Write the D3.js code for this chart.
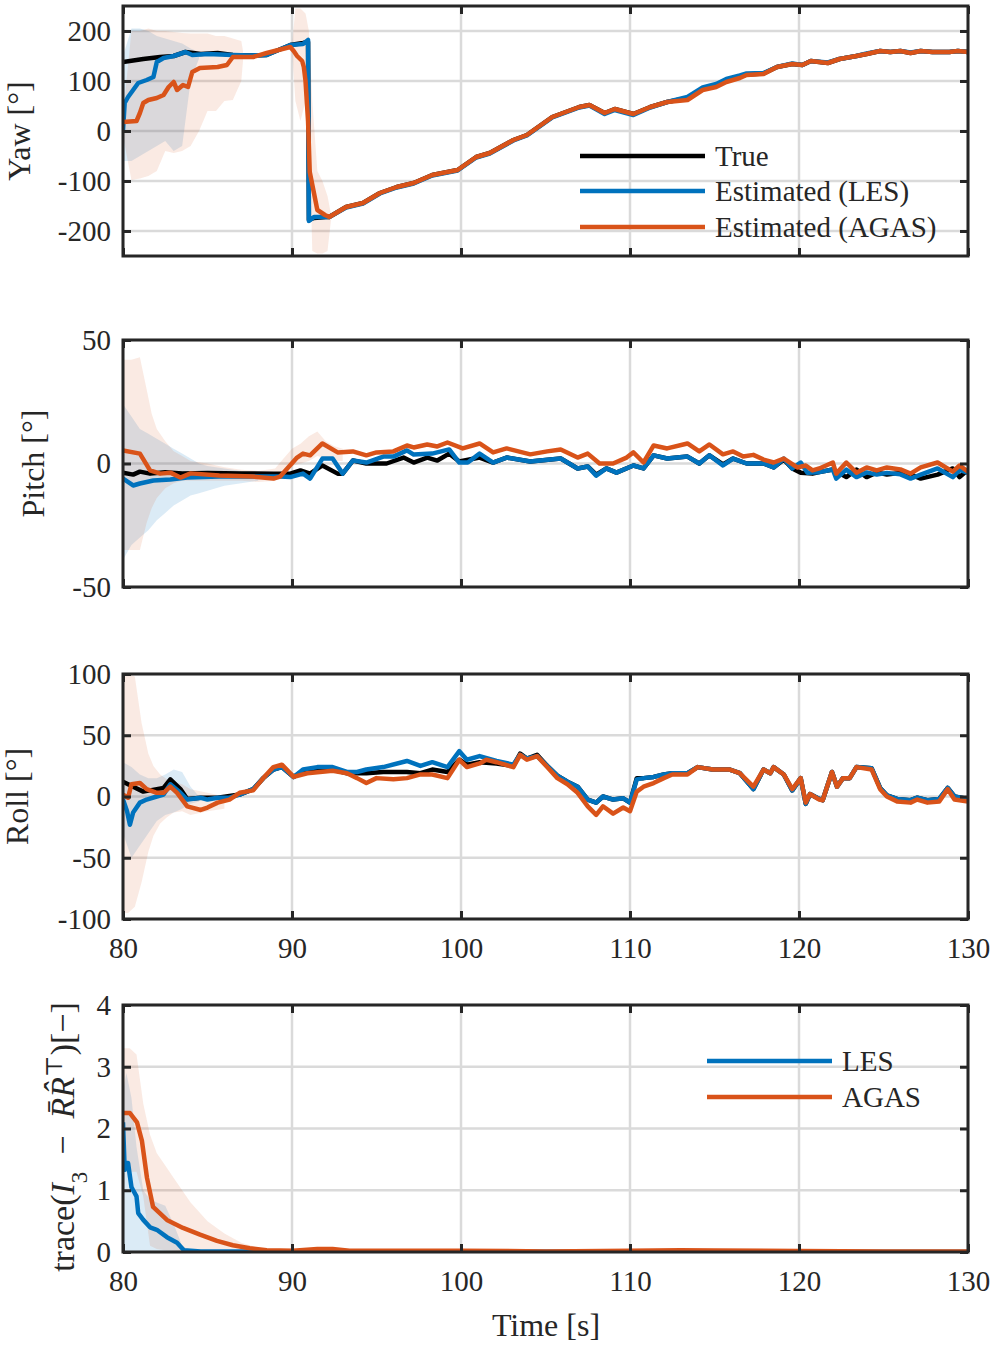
<!DOCTYPE html>
<html>
<head>
<meta charset="utf-8">
<script src="https://cdn.jsdelivr.net/npm/d3@7"></script>
<style>
  body { margin: 0; background: #fff; }
  text { font-family: "Liberation Serif", "DejaVu Serif", serif; fill: #262626; }
</style>
</head>
<body>
<svg id="chart" width="996" height="1350"></svg>
<script>
// ---- data (time in s, angles in deg) ----
var timeTicks = [80, 90, 100, 110, 120, 130];

// Yaw
var yawTicks = [-200, -100, 0, 100, 200];
var yawTrueT = [80, 81.2, 82.2, 83.0, 83.7, 84.6, 85.6, 86.5, 87.5, 88.5, 89.9, 90.65, 90.95, 91.0, 91.3, 92.0];
var yawTrue  = [138, 144, 148, 150, 158, 154, 156, 152, 151, 152, 172, 176, 178, -178, -174, -172];
var yawLesT  = [80, 80.1, 80.3, 80.6, 80.9, 81.4, 81.8, 82.0, 82.4, 83.0, 83.7, 84.1, 85.0, 86.5, 87.5, 88.5, 89.9, 90.65, 90.95, 91.0, 91.3, 92.0];
var yawLes   = [2, 56, 68, 82, 96, 102, 108, 138, 146, 150, 158, 152, 154, 152, 151, 152, 172, 174, 182, -180, -172, -172];
var yawAgasT = [80, 80.8, 81.0, 81.2, 81.5, 82.0, 82.4, 82.7, 83.0, 83.2, 83.55, 83.85, 84.1, 84.55, 85.6, 86.15, 86.5, 87.7, 88.5, 89.9, 90.1, 90.3, 90.6, 90.7, 90.8, 90.95, 91.05, 91.5, 91.95];
var yawAgas  = [18, 20, 36, 56, 62, 66, 72, 88, 98, 82, 92, 88, 118, 126, 128, 132, 148, 148, 156, 168, 160, 150, 140, 128, 100, 20, -82, -158, -168];
var yawLateT = [92.2, 93.2, 94.2, 95.2, 96.2, 97.2, 98.3, 99.8, 100.9, 101.7, 103.1, 103.9, 105.4, 107.0, 107.6, 108.5, 109.1, 110.2, 111.2, 112.2, 113.4, 114.3, 115.1, 115.7, 116.5, 116.9, 117.9, 118.7, 119.6, 120.2, 120.7, 121.7, 122.4, 123.4, 124.0, 124.8, 125.4, 126.0, 126.6, 127.2, 127.9, 128.9, 129.4, 130];
var yawTrueLate = [-172, -152, -144, -124, -112, -104, -88, -78, -52, -44, -18, -8, 28, 48, 52, 36, 44, 34, 48, 58, 66, 84, 90, 100, 108, 113, 115, 128, 134, 132, 140, 136, 144, 150, 154, 160, 158, 160, 156, 160, 158, 158, 160, 158];
var yawLesLate  = [-172, -153, -145, -125, -113, -105, -89, -79, -53, -45, -19, -9, 27, 47, 51, 34, 42, 32, 47, 58, 68, 87, 94, 104, 111, 115, 116, 128, 135, 132, 140, 137, 144, 150, 155, 160, 158, 160, 157, 160, 158, 158, 160, 158];
var yawAgasLate = [-172, -152, -144, -124, -112, -104, -88, -78, -52, -44, -18, -8, 28, 48, 52, 36, 44, 34, 48, 58, 62, 82, 88, 98, 106, 112, 114, 128, 134, 132, 140, 136, 144, 150, 154, 160, 158, 160, 156, 160, 158, 158, 160, 158];
var yawLesBandT = [80, 80.5, 81, 81.5, 82, 82.5, 83, 83.5, 84, 84.5];
var yawLesUp    = [150, 205, 205, 200, 190, 185, 180, 175, 165, 158];
var yawLesLo    = [-60, -60, -50, -40, -30, -20, -40, -30, 100, 145];
var yawAgasBandT = [80, 80.5, 81, 81.5, 82, 82.5, 83, 83.5, 84, 84.5, 85, 85.5, 86, 86.5, 87, 87.1];
var yawAgasUp    = [30, 200, 200, 205, 200, 200, 198, 196, 195, 195, 195, 190, 190, 185, 180, 160];
var yawAgasLo    = [-10, -98, -95, -90, -80, -40, -44, -40, -30, 0, 40, 40, 60, 62, 100, 140];
var yawAgasBand2T = [90.0, 90.2, 90.5, 90.8, 91.0, 91.2, 91.5, 91.8, 92.1, 92.3];
var yawAgasUp2    = [170, 245, 245, 235, 200, 60, -80, -100, -130, -165];
var yawAgasLo2    = [165, 60, 20, 60, 30, -240, -245, -245, -240, -180];

// Pitch
var pitchTicks = [-50, 0, 50];
var pitchTrueT = [80, 80.6, 81.0, 81.6, 82.5, 83.5, 85, 87, 88.9, 89.9, 90.5, 91.07, 91.8, 92.7, 93.0, 93.6, 94.4, 95.6, 96.6, 97.2, 98.0, 98.6, 99.3, 99.9, 101.1, 101.9, 102.7, 104.1, 105.9, 106.9, 107.5, 108.0, 108.6, 109.2, 110.2, 110.8, 111.4, 112.2, 113.4, 114.1, 114.7, 115.5, 116.1, 116.9, 117.9, 118.5, 119.1, 119.6, 120.1, 120.8, 121.2, 122.0, 122.8, 123.4, 124.0, 124.6, 125.2, 126.0, 126.6, 127.2, 128.2, 129.1, 129.5, 130];
var pitchTrue  = [-3.7, -4.5, -3.3, -4.1, -3.5, -4, -3.8, -4, -4.1, -4.1, -2.8, -4.1, -0.8, -4.1, -4.1, 1.2, 0, 0, 2.4, 0.4, 2.4, 1.2, 4, 0.8, 2.4, 0.4, 2.4, 0.8, 2, -2, -1.2, -4.5, -2, -3.7, -0.8, -2, 3.3, 2, 2.8, 0, 3.3, -0.4, 2, 0, 0, -1.6, 1.5, -2, -3.7, -4.1, -3.5, -2.4, -5.5, -2.5, -5.5, -3.6, -4.5, -3.8, -4.4, -6.1, -4.5, -2, -5.5, -2.6, -3.8];
var pitchLesT  = [80, 80.6, 81.0, 81.8, 82.8, 83.8, 85.7, 87.7, 89.3, 89.9, 90.65, 91.07, 91.8, 92.4, 93.0, 93.6, 94.4, 95.4, 96.0, 96.8, 97.2, 98.3, 99.3, 99.9, 100.4, 101.1, 101.9, 102.7, 104.1, 105.9, 106.9, 107.5, 108.0, 108.6, 109.2, 110.2, 110.8, 111.4, 112.2, 113.4, 114.1, 114.7, 115.5, 116.1, 116.9, 117.9, 118.5, 119.1, 119.6, 120.1, 120.5, 121.2, 122.0, 122.2, 122.8, 123.4, 124.0, 124.6, 125.2, 126.0, 126.6, 127.2, 128.2, 129.1, 129.5, 130];
var pitchLes   = [-6.1, -8.9, -8.1, -6.9, -6.5, -5.7, -5.3, -5.3, -5.3, -5.5, -4.1, -6.1, 2, 2, -4.1, 1.2, 0.4, 2.8, 2.8, 5.3, 3.6, 4, 5.7, 0.4, 0.4, 4, 0.4, 2.4, 0.8, 2, -2, -1.2, -4.9, -2, -3.7, -0.8, -2, 3.3, 2, 2.8, 0, 3.3, -0.8, 2, 0, 0, -1.6, 2, -2, 0.4, -3.7, -3.5, -2.4, -6.1, -2.5, -5.5, -3.6, -4.5, -3.8, -4.4, -6.1, -4.5, -2, -5.5, -2.6, -3.8];
var pitchAgasT = [80, 81.0, 81.6, 82.2, 82.8, 83.4, 84.0, 85.7, 87.7, 88.9, 89.3, 90.3, 90.65, 91.07, 91.8, 92.7, 93.6, 94.4, 95.0, 96.0, 96.8, 97.2, 98.0, 98.6, 99.2, 100.1, 101.1, 101.9, 102.7, 104.1, 105.1, 105.9, 106.9, 107.5, 108.2, 109.0, 109.8, 110.2, 110.8, 111.4, 112.2, 113.4, 114.1, 114.7, 115.5, 116.1, 116.7, 117.3, 117.9, 118.5, 119.1, 119.9, 120.4, 120.8, 121.2, 122.0, 122.2, 122.8, 123.4, 124.0, 124.6, 125.2, 126.0, 126.6, 127.2, 128.2, 129.1, 129.5, 130];
var pitchAgas  = [5.3, 4, -2.8, -4.1, -3.7, -5.7, -4, -4.9, -5.3, -6.1, -5.3, 2.4, 4, 3.3, 8.1, 4.5, 4.9, 3.3, 4.5, 4.9, 7.3, 6.5, 7.7, 6.9, 8.5, 6.1, 8.1, 4.5, 6.1, 3.7, 4.9, 5.7, 2.4, 4, 0, 0, 2.4, 4.5, 0.4, 7.3, 6.1, 8.1, 4.9, 7.7, 3.7, 4.9, 2.8, 3.5, 1.6, 0.4, 2, -1.6, -0.8, -2.8, -2, 0.4, -4.1, 0.4, -3.7, -1.6, -2.8, -1.6, -2.4, -4.1, -1.6, 0.4, -3.3, -0.8, -3.3];
var pitchLesBandT = [80, 80.5, 81, 81.5, 82, 82.5, 83, 83.5, 84, 84.5, 85, 86, 87, 88];
var pitchLesUp    = [24, 19, 14, 12, 10, 8, 6, 4, 2, 0, -1, -2, -3, -3.5];
var pitchLesLo    = [-39, -33, -30, -27, -23, -20, -17, -15, -13, -12, -11, -9, -8, -7];
var pitchAgasBandT = [80, 80.5, 81, 81.4, 81.7, 82, 82.5, 83, 83.5, 84, 85, 86, 87, 88, 89, 89.5, 90, 90.5, 91, 91.5, 92, 92.5, 93];
var pitchAgasUp    = [42, 42, 43, 30, 20, 14, 9, 5, 3, 1, 0, -1.5, -2.5, -3, -2, 2, 6, 8, 11, 13, 9, 7, 6];
var pitchAgasLo    = [-35, -35, -35, -24, -18, -14, -10, -8, -7, -7, -7, -7, -7, -7.5, -7, -4, -1, 0, 1, 3, 2, 1, 1];

// Roll
var rollTicks = [-100, -50, 0, 50, 100];
var rollTrueT = [80, 80.6, 81.2, 82.0, 82.4, 82.8, 83.4, 83.8, 84.6, 85.6, 86.9, 87.7, 88.3, 88.9, 89.4, 90.1, 90.65, 91.5, 92.4, 93.25, 94.4, 95.4, 96.8, 97.6, 98.3, 99.2, 99.9, 100.35, 101.1, 102.1, 103.1, 103.5, 103.9, 104.5, 105.1, 105.7, 106.3, 106.9, 107.5, 108.0, 108.4, 109.0, 109.6, 110.0, 110.4, 110.8, 111.4, 112.0, 112.5, 113.4, 114.0, 114.9, 115.9, 116.5, 117.3, 117.9, 118.3, 118.5, 119.1, 119.6, 120.1, 120.4, 120.65, 121.2, 121.4, 121.95, 122.25, 122.6, 123.0, 123.4, 124.3, 124.8, 125.2, 125.8, 126.6, 127.0, 127.6, 128.3, 128.8, 129.2, 130];
var rollTrue  = [12, 8, 4, 6, 7, 14, 6, -2, -1, -1, 1.6, 6, 15, 22, 24, 16, 21, 22, 22, 19, 19, 20, 20, 19, 22, 20, 30, 26, 28, 27, 25, 35, 31, 34, 25, 17, 12, 8, -2.5, -5, 0, -2.5, -1.5, -5, 15, 15, 16, 18, 19, 19, 24, 22, 22, 19, 6, 22, 19, 24, 18, 5, 15, -6, 2, -2, -3, 20, 8, 15, 15, 24, 23, 7, 1, -2, -3, -1, -3, -2, 7, 0, -2];
var rollLesT  = [80, 80.24, 80.41, 80.6, 81.0, 81.4, 82.0, 82.4, 82.8, 83.4, 83.8, 84.6, 85.0, 85.6, 86.3, 86.9, 87.7, 88.3, 88.9, 89.4, 90.1, 90.65, 91.5, 92.4, 93.25, 93.85, 94.4, 95.4, 96.8, 97.6, 98.3, 99.2, 99.9, 100.35, 101.1, 102.1, 103.1, 103.5, 103.9, 104.5, 105.1, 105.7, 106.3, 106.9, 107.5, 108.0, 108.4, 109.0, 109.6, 110.0, 110.4, 110.8, 111.4, 112.0, 112.5, 113.4, 114.0, 114.9, 115.9, 116.5, 117.3, 117.9, 118.3, 118.5, 119.1, 119.6, 120.1, 120.4, 120.65, 121.2, 121.4, 121.95, 122.25, 122.6, 123.0, 123.4, 124.3, 124.8, 125.2, 125.8, 126.6, 127.0, 127.6, 128.3, 128.8, 129.2, 130];
var rollLes   = [-2.5, -12, -23, -13, -5, -2.5, 0, 1.6, 10, 3, -2.5, -1, -2.5, -1, -1, 1.6, 6, 15, 22, 24, 16, 22, 24, 24, 20, 20, 22, 24, 29, 25, 28, 24, 37, 30, 33, 29, 26, 34, 31, 33, 25, 17, 12, 8, -2.5, -5, 0, -2.5, -1.5, -5, 14, 15, 16, 18, 19, 19, 24, 22, 22, 19, 6, 22, 19, 24, 18, 5, 15, -6, 2, -2, -3, 20, 8, 15, 15, 24, 23, 7, 1, -2, -3, -1, -3, -2, 7, 0, -2];
var rollAgasT = [80, 80.3, 80.5, 81.0, 81.4, 82.0, 82.4, 82.8, 83.2, 83.8, 84.6, 85.0, 85.6, 86.3, 86.9, 87.7, 88.3, 88.9, 89.4, 90.1, 90.9, 91.65, 92.4, 93.25, 93.85, 94.4, 95.0, 96.0, 96.8, 97.6, 98.3, 99.2, 99.9, 100.35, 101.1, 101.5, 102.1, 103.1, 103.5, 103.9, 104.5, 105.1, 105.7, 106.3, 106.9, 107.5, 108.0, 108.4, 109.0, 109.6, 110.0, 110.4, 110.8, 111.4, 112.0, 112.5, 113.4, 114.0, 114.9, 115.9, 116.5, 117.3, 117.9, 118.3, 118.5, 119.1, 119.6, 120.1, 120.4, 120.65, 121.2, 121.4, 121.95, 122.25, 122.6, 123.0, 123.4, 124.3, 124.8, 125.2, 125.8, 126.6, 127.0, 127.6, 128.3, 128.8, 129.2, 130];
var rollAgas  = [1.6, -1, 10, 11, 6, 3, 3, 8, 3, -8, -11, -9, -5, -2.5, 3, 5, 15, 24, 26, 16, 19, 20, 21, 19, 15, 11, 15, 14, 15, 18, 18, 15, 30, 24, 27, 30, 28, 24, 34, 30, 33, 24, 15, 10, 3, -8, -15, -8, -14, -9, -12, 4, 8, 11, 15, 18, 18, 24, 22, 22, 19, 8, 22, 19, 24, 18, 6, 15, -5, 2, -2.5, -3, 20, 8, 15, 15, 24, 22, 6, 0, -4, -5, -2.5, -5, -4, 6, -2.5, -4];
var rollLesBandT = [80, 80.5, 81, 81.5, 82, 82.5, 83, 83.5, 84, 84.5];
var rollLesUp    = [28, 24, 18, 15, 15, 18, 22, 20, 8, 0];
var rollLesLo    = [-30, -50, -40, -30, -20, -15, -13, -10, -6, -4];
var rollAgasBandT = [80, 80.3, 80.7, 81.1, 81.5, 81.8, 82.2, 82.6, 83, 83.5, 84, 85, 86];
var rollAgasUp    = [100, 100, 98, 60, 35, 25, 18, 14, 12, 10, 6, 3, 0];
var rollAgasLo    = [-95, -95, -90, -70, -45, -32, -22, -17, -13, -12, -15, -12, -10];

// trace(I3 - R R^T)
var traceTicks = [0, 1, 2, 3, 4];
var traceTrueT = [80, 130];
var traceTrue  = [0, 0];
var traceLesT  = [80, 80.1, 80.15, 80.3, 80.5, 80.6, 80.8, 80.9, 81.2, 81.6, 82.0, 82.6, 83.2, 83.6, 84.6, 90, 100, 110, 120, 130];
var traceLes   = [2.1, 1.33, 1.44, 1.44, 1.05, 1.0, 0.9, 0.63, 0.52, 0.4, 0.36, 0.24, 0.15, 0.03, 0.01, 0.005, 0.01, 0.005, 0.005, 0.005];
var traceAgasT = [80, 80.41, 80.83, 81.12, 81.42, 81.78, 82.6, 83.55, 84.56, 85.56, 86.5, 87.5, 88.5, 90.06, 91.5, 92.4, 93.4, 100, 105, 110, 113, 115, 120, 125, 130];
var traceAgas  = [2.25, 2.25, 2.1, 1.8, 1.2, 0.73, 0.52, 0.39, 0.28, 0.18, 0.11, 0.06, 0.03, 0.02, 0.05, 0.05, 0.02, 0.02, 0.01, 0.02, 0.03, 0.025, 0.015, 0.01, 0.01];
var traceLesBandT = [80, 80.2, 80.5, 80.8, 81.2, 81.6, 82, 82.5, 83, 83.5, 84];
var traceLesUp    = [2.6, 2.9, 2.5, 1.7, 1.0, 0.85, 0.8, 0.75, 0.45, 0.1, 0.02];
var traceLesLo    = [0, 0, 0, 0, 0, 0, 0, 0, 0, 0, 0];
var traceAgasBandT = [80, 80.4, 80.8, 81.2, 81.6, 82, 82.5, 83, 84, 85, 86, 87, 88, 89, 90];
var traceAgasUp    = [3.3, 3.3, 3.2, 2.4, 1.9, 1.6, 1.4, 1.2, 0.8, 0.5, 0.3, 0.15, 0.07, 0.03, 0.02];
var traceAgasLo    = [1.3, 1.3, 1.3, 0.9, 0.1, 0.05, 0.03, 0.02, 0.01, 0, 0, 0, 0, 0, 0];

// ---- helpers ----
function pts(t, v) { return t.map(function(d, i) { return {t: d, v: v[i]}; }); }
function band(t, lo, up) { return t.map(function(d, i) { return {t: d, lo: lo[i], up: up[i]}; }); }

var BLUE = "#0072BD", ORANGE = "#D95319", AX = "#262626";
var svg = d3.select("#chart");
var x = d3.scaleLinear().domain([80, 130]).range([123, 968]);

var panels = [
  {id: "yaw", top: 6, bottom: 256, domain: [-250, 250], ticks: yawTicks,
   bands: [{d: band(yawLesBandT, yawLesLo, yawLesUp), c: BLUE, o: 0.14},
           {d: band(yawAgasBandT, yawAgasLo, yawAgasUp), c: ORANGE, o: 0.12},
           {d: band(yawAgasBand2T, yawAgasLo2, yawAgasUp2), c: ORANGE, o: 0.12}],
   lines: [{d: pts(yawTrueT.concat(yawLateT), yawTrue.concat(yawTrueLate)), c: "#000"},
           {d: pts(yawLesT.concat(yawLateT), yawLes.concat(yawLesLate)), c: BLUE},
           {d: pts(yawAgasT.concat(yawLateT), yawAgas.concat(yawAgasLate)), c: ORANGE}],
   label: "Yaw [°]", lx: 19, xlabels: false},
  {id: "pitch", top: 340, bottom: 587, domain: [-50, 50], ticks: pitchTicks,
   bands: [{d: band(pitchLesBandT, pitchLesLo, pitchLesUp), c: BLUE, o: 0.14},
           {d: band(pitchAgasBandT, pitchAgasLo, pitchAgasUp), c: ORANGE, o: 0.12}],
   lines: [{d: pts(pitchTrueT, pitchTrue), c: "#000"},
           {d: pts(pitchLesT, pitchLes), c: BLUE},
           {d: pts(pitchAgasT, pitchAgas), c: ORANGE}],
   label: "Pitch [°]", lx: 33, xlabels: false},
  {id: "roll", top: 674, bottom: 919, domain: [-100, 100], ticks: rollTicks,
   bands: [{d: band(rollLesBandT, rollLesLo, rollLesUp), c: BLUE, o: 0.14},
           {d: band(rollAgasBandT, rollAgasLo, rollAgasUp), c: ORANGE, o: 0.12}],
   lines: [{d: pts(rollTrueT, rollTrue), c: "#000"},
           {d: pts(rollLesT, rollLes), c: BLUE},
           {d: pts(rollAgasT, rollAgas), c: ORANGE}],
   label: "Roll [°]", lx: 17, xlabels: true},
  {id: "trace", top: 1005, bottom: 1252, domain: [0, 4], ticks: traceTicks,
   bands: [{d: band(traceLesBandT, traceLesLo, traceLesUp), c: BLUE, o: 0.14},
           {d: band(traceAgasBandT, traceAgasLo, traceAgasUp), c: ORANGE, o: 0.12}],
   lines: [{d: pts(traceTrueT, traceTrue), c: "#000", dash: "2,6", w: 2},
           {d: pts(traceLesT, traceLes), c: BLUE},
           {d: pts(traceAgasT, traceAgas), c: ORANGE}],
   label: null, xlabels: true}
];

panels.forEach(function(p) {
  var y = d3.scaleLinear().domain(p.domain).range([p.bottom, p.top]);
  var g = svg.append("g").attr("class", "panel-" + p.id);

  g.append("clipPath").attr("id", "clip-" + p.id)
    .append("rect").attr("x", x(80)).attr("y", p.top)
    .attr("width", x(130) - x(80)).attr("height", p.bottom - p.top);

  // grid
  var grid = g.append("g").attr("stroke", "#dadada").attr("stroke-width", 2.5);
  grid.selectAll("line.v").data(timeTicks).enter().append("line")
    .attr("x1", x).attr("x2", x).attr("y1", p.top).attr("y2", p.bottom);
  grid.selectAll("line.h").data(p.ticks).enter().append("line")
    .attr("x1", x(80)).attr("x2", x(130)).attr("y1", y).attr("y2", y);

  var plot = g.append("g").attr("clip-path", "url(#clip-" + p.id + ")");

  // uncertainty bands
  var area = d3.area().x(function(d) { return x(d.t); })
    .y0(function(d) { return y(d.lo); }).y1(function(d) { return y(d.up); });
  p.bands.forEach(function(b) {
    plot.append("path").datum(b.d).attr("d", area)
      .attr("fill", b.c).attr("fill-opacity", b.o);
  });

  // series
  var line = d3.line().x(function(d) { return x(d.t); }).y(function(d) { return y(d.v); });
  p.lines.forEach(function(l) {
    plot.append("path").datum(l.d).attr("d", line)
      .attr("fill", "none").attr("stroke", l.c)
      .attr("stroke-width", l.w || 4.5)
      .attr("stroke-linejoin", "round")
      .attr("stroke-dasharray", l.dash || null);
  });

  // axes, ticks pointing inward
  var fmt = function(d) { return String(d); };
  g.append("g").attr("transform", "translate(" + x(80) + ",0)")
    .call(d3.axisLeft(y).tickValues(p.ticks).tickSize(-8).tickPadding(12).tickFormat(fmt));
  g.append("g").attr("transform", "translate(" + x(130) + ",0)")
    .call(d3.axisRight(y).tickValues(p.ticks).tickSize(-8).tickFormat(""));
  g.append("g").attr("transform", "translate(0," + p.top + ")")
    .call(d3.axisTop(x).tickValues(timeTicks).tickSize(-8).tickFormat(""));
  g.append("g").attr("transform", "translate(0," + p.bottom + ")")
    .call(d3.axisBottom(x).tickValues(timeTicks).tickSize(-8).tickPadding(18)
      .tickFormat(p.xlabels ? fmt : ""));

  g.selectAll(".domain").remove();
  g.selectAll(".tick line").attr("stroke", AX).attr("stroke-width", 3);
  g.selectAll(".tick text").style("font-size", "29px").attr("fill", AX);

  g.append("rect").attr("x", x(80)).attr("y", p.top)
    .attr("width", x(130) - x(80)).attr("height", p.bottom - p.top)
    .attr("fill", "none").attr("stroke", AX).attr("stroke-width", 3);

  if (p.label) {
    g.append("text")
      .attr("transform", "translate(" + p.lx + "," + ((p.top + p.bottom) / 2) + ") rotate(-90)")
      .attr("text-anchor", "middle").attr("dy", "0.35em")
      .style("font-size", "32px").text(p.label);
  }
});

// trace y label
var tl = svg.append("text")
  .attr("transform", "translate(62,1137) rotate(-90)")
  .attr("text-anchor", "middle").attr("dy", "0.35em")
  .style("font-size", "34px");
tl.append("tspan").text("trace(");
tl.append("tspan").style("font-style", "italic").text("I");
tl.append("tspan").attr("baseline-shift", "sub").style("font-size", "23px").text("3");
tl.append("tspan").text("\u2002−\u2002");
tl.append("tspan").style("font-style", "italic").text("R\u0304R\u0302");
tl.append("tspan").attr("baseline-shift", "super").style("font-size", "23px").text("⊤");
tl.append("tspan").text(")[−]");

svg.append("text").attr("x", 546).attr("y", 1336)
  .attr("text-anchor", "middle").style("font-size", "32px").text("Time [s]");

// legends
var yawLegend = [{name: "True", c: "#000", y: 156}, {name: "Estimated (LES)", c: BLUE, y: 191},
                 {name: "Estimated (AGAS)", c: ORANGE, y: 227}];
var traceLegend = [{name: "LES", c: BLUE, y: 1061}, {name: "AGAS", c: ORANGE, y: 1097}];

function legend(items, x0) {
  var lg = svg.append("g");
  items.forEach(function(it) {
    lg.append("line").attr("x1", x0).attr("x2", x0 + 125).attr("y1", it.y).attr("y2", it.y)
      .attr("stroke", it.c).attr("stroke-width", 4.5);
    lg.append("text").attr("x", x0 + 135).attr("y", it.y).attr("dy", "0.35em")
      .style("font-size", "29px").text(it.name);
  });
}
legend(yawLegend, 580);
legend(traceLegend, 707);
</script>
</body>
</html>
